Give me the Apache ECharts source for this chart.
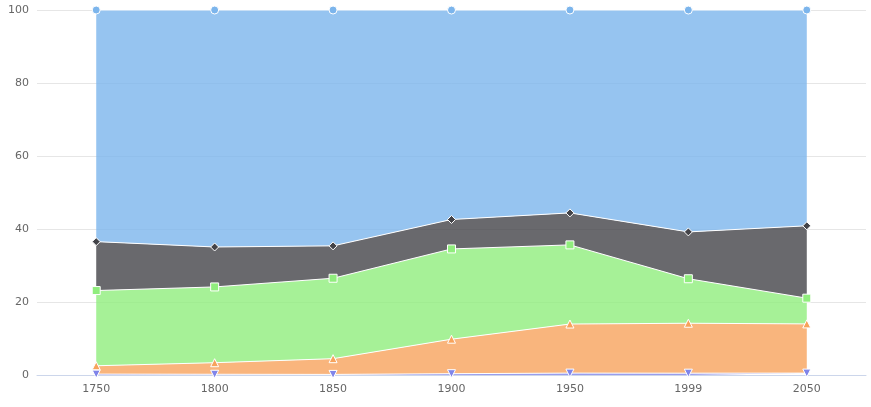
<!DOCTYPE html>
<html>
<head>
<meta charset="utf-8">
<script src="https://cdn.jsdelivr.net/npm/echarts@6/dist/echarts.min.js"></script>
<style>
    html, body { margin: 0; padding: 0; background: #fff; }
    #main { width: 871px; height: 407px; }
</style>
</head>
<body>
<div id="main"></div>
<script>
var categories = ['1750', '1800', '1850', '1900', '1950', '1999', '2050'];

// share of each region, percent
var oceania = [0.25, 0.20, 0.16, 0.36, 0.52, 0.50, 0.52];
var america = [2.28, 3.17, 4.31, 9.45, 13.44, 13.68, 13.48];
var europe = [20.61, 20.76, 22.04, 24.73, 21.69, 12.19, 7.05];
var africa = [13.40, 10.94, 8.87, 8.06, 8.76, 12.83, 19.82];
var asia = [63.46, 64.93, 64.62, 57.39, 55.59, 60.79, 59.13];

var yTicks = [0, 20, 40, 60, 80, 100];

var colors = ['#8085e9', '#f7a35c', '#90ed7d', '#434348', '#7cb5ec'];

function areaSeries(name, data, color, symbol, rotate) {
    return {
        name: name,
        type: 'line',
        stack: 'total',
        data: data,
        symbol: symbol,
        symbolSize: symbol === 'rect' ? 8 : 8,
        symbolRotate: rotate || 0,
        showAllSymbol: true,
        itemStyle: {
            color: color,
            borderColor: '#ffffff',
            borderWidth: 1
        },
        lineStyle: {
            color: '#ffffff',
            width: 1
        },
        areaStyle: {
            color: color,
            opacity: 0.8
        },
        emphasis: {disabled: true}
    };
}

var myChart = echarts.init(document.getElementById('main'));
myChart.setOption({
    animation: false,
    textStyle: {fontFamily: 'DejaVu Sans'},
    grid: {
        left: 37,
        right: 5,
        top: 10,
        bottom: 32
    },
    xAxis: {
        type: 'category',
        data: categories,
        boundaryGap: true,
        axisLine: {lineStyle: {color: '#ccd6eb', width: 1}},
        axisTick: {
            alignWithLabel: true,
            length: 9,
            lineStyle: {color: '#ccd6eb'}
        },
        axisLabel: {
            color: '#666666',
            fontSize: 11,
            margin: 9
        }
    },
    yAxis: {
        type: 'value',
        min: yTicks[0],
        max: yTicks[yTicks.length - 1],
        interval: 20,
        axisLine: {show: false},
        axisTick: {show: false},
        axisLabel: {
            color: '#666666',
            fontSize: 11,
            margin: 8
        },
        splitLine: {lineStyle: {color: '#e6e6e6', width: 1}}
    },
    series: [
        areaSeries('Oceania', oceania, colors[0], 'triangle', 180),
        areaSeries('America', america, colors[1], 'triangle'),
        areaSeries('Europe', europe, colors[2], 'rect'),
        areaSeries('Africa', africa, colors[3], 'diamond'),
        areaSeries('Asia', asia, colors[4], 'circle')
    ]
});
</script>
</body>
</html>
